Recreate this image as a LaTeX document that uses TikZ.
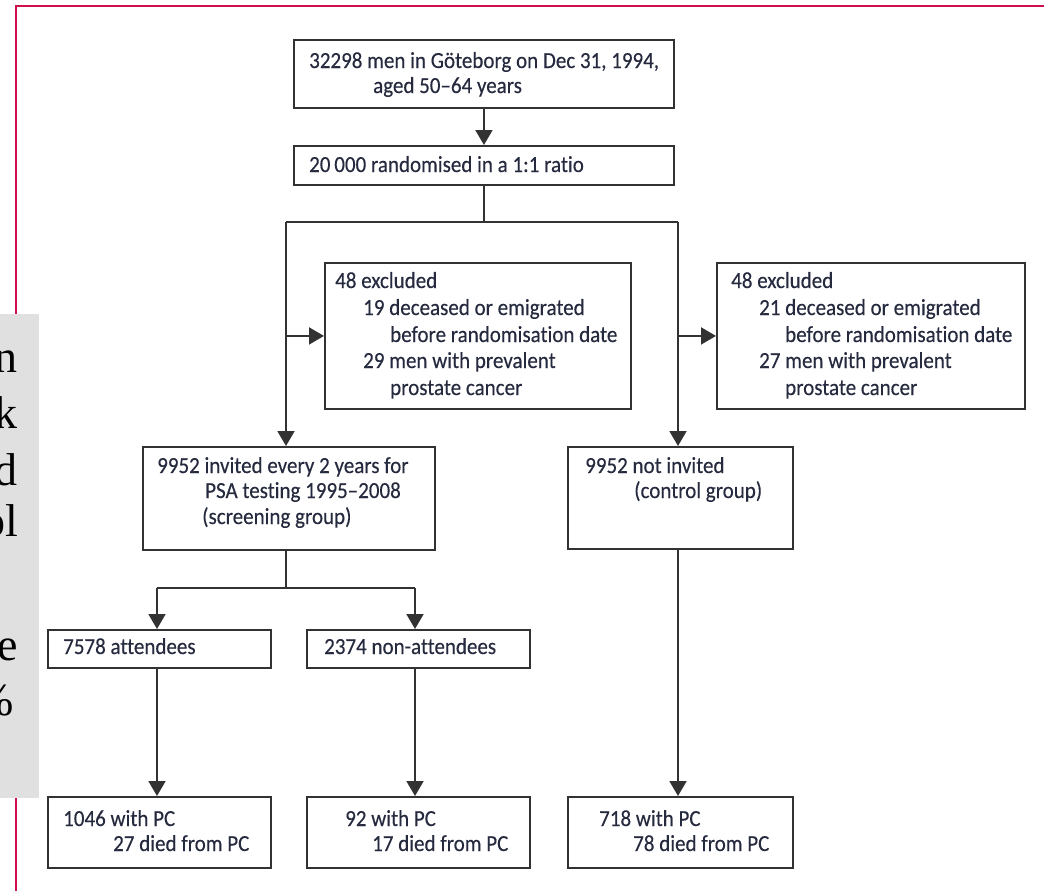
\documentclass[tikz,border=0pt]{standalone}
\usepackage{fontspec}
\setmainfont{Carlito}[FakeStretch=0.913, Ligatures={NoCommon}, FakeBold=0.3]
\newfontfamily\panelserif{Liberation Serif}
\usetikzlibrary{arrows.meta}
\definecolor{frameRed}{RGB}{208,16,76}
\definecolor{panelGrey}{RGB}{224,224,224}
\definecolor{lineGrey}{RGB}{50,50,50}
\definecolor{txtCol}{RGB}{38,42,62}
\newcommand\tf{\fontsize{23pt}{25pt}\selectfont}
\tikzset{
  box/.style={draw=lineGrey, line width=1.9pt, rectangle, inner sep=0pt, anchor=north west},
  conn/.style={draw=lineGrey, line width=1.9pt},
  arr/.style={conn, -{Triangle[width=17pt,length=15pt]}},
  txt/.style={anchor=base west, inner sep=0pt, text=txtCol, font=\tf},
  ptxt/.style={anchor=base east, inner sep=0pt, text=black, font=\panelserif\fontsize{46pt}{50pt}\selectfont},
}
\begin{document}
\begin{tikzpicture}[x=1pt,y=-1pt]
\useasboundingbox (0,0) rectangle (1044,891);
% frame
\draw[frameRed, line width=2.8pt] (16,891) -- (16,6) -- (1044,6);
% grey side panel
\fill[panelGrey] (0,314) rectangle (39,798);
\begin{scope}
\clip (0,314) rectangle (39,798);
\node[ptxt] (p1) at (18,372) {n};
\node[ptxt] (p2) at (18,428) {k};
\node[ptxt] (p3) at (18,485) {d};
\node[ptxt] (p4) at (18,536) {ol};
\node[ptxt] (p5) at (18,660) {e};
\node[ptxt] (p6) at (14,715) {\%};
\end{scope}
% boxes
\node[box, minimum width=380pt, minimum height=68pt] (b1) at (293,39) {};
\node[box, minimum width=380pt, minimum height=39pt] (b2) at (293,145) {};
\node[box, minimum width=306pt, minimum height=146pt] (ex1) at (324,262) {};
\node[box, minimum width=308pt, minimum height=146pt] (ex2) at (716,262) {};
\node[box, minimum width=292pt, minimum height=103pt] (scr) at (142,446) {};
\node[box, minimum width=225pt, minimum height=102pt] (ctl) at (567,446) {};
\node[box, minimum width=223pt, minimum height=38pt] (att) at (47,629) {};
\node[box, minimum width=223pt, minimum height=38pt] (non) at (306,629) {};
\node[box, minimum width=223pt, minimum height=71pt] (pc1) at (47,796) {};
\node[box, minimum width=223pt, minimum height=71pt] (pc2) at (306,796) {};
\node[box, minimum width=225pt, minimum height=71pt] (pc3) at (567,796) {};
% texts
\node[txt] (t1a) at (309,68) {32298 men in Göteborg on Dec 31, 1994,};
\node[txt] (t1b) at (373,93) {aged 50–64 years};
\node[txt] (t2) at (309,172) {20\,000 randomised in a 1:1 ratio};
\node[txt] (e1a) at (335,288) {48 excluded};
\node[txt] (e1b) at (363,315) {19 deceased or emigrated};
\node[txt] (e1c) at (390,342) {before randomisation date};
\node[txt] (e1d) at (363,368) {29 men with prevalent};
\node[txt] (e1e) at (390,395) {prostate cancer};
\node[txt] (e2a) at (731,288) {48 excluded};
\node[txt] (e2b) at (759,315) {21 deceased or emigrated};
\node[txt] (e2c) at (785,342) {before randomisation date};
\node[txt] (e2d) at (759,368) {27 men with prevalent};
\node[txt] (e2e) at (785,395) {prostate cancer};
\node[txt] (s1) at (157,473) {9952 invited every 2 years for};
\node[txt] (s2) at (205,498) {PSA testing 1995–2008};
\node[txt] (s3) at (202,524) {(screening group)};
\node[txt] (c1) at (585,473) {9952 not invited};
\node[txt] (c2) at (634,498) {(control group)};
\node[txt] (a1) at (63,654) {7578 attendees};
\node[txt] (n1) at (324,654) {2374 non-attendees};
\node[txt] (q1a) at (63,826) {1046 with PC};
\node[txt] (q1b) at (113,851) {27 died from PC};
\node[txt] (q2a) at (345,826) {92 with PC};
\node[txt] (q2b) at (372,851) {17 died from PC};
\node[txt] (q3a) at (599,826) {718 with PC};
\node[txt] (q3b) at (633,851) {78 died from PC};
% connectors
\coordinate (sp) at (483,222);
\coordinate (spl) at (286,222);
\coordinate (spr) at (678,222);
\coordinate (sq) at (286,588);
\coordinate (sql) at (157,588);
\coordinate (sqr) at (415,588);
\draw[arr] (b1.south) -- (b2.north);
\draw[conn] (b2.south) -- (b2.south |- sp);
\draw[conn] (spl) -- (spr);
\draw[arr] (spl) -- (spl |- scr.north);
\draw[arr] (spr) -- (spr |- ctl.north);
\draw[arr] (spl |- ex1.west) -- (ex1.west);
\draw[arr] (spr |- ex2.west) -- (ex2.west);
\draw[conn] (spl |- scr.south) -- (sq);
\draw[conn] (sql) -- (sqr);
\draw[arr] (sql) -- (sql |- att.north);
\draw[arr] (sqr) -- (sqr |- non.north);
\draw[arr] (sql |- att.south) -- (sql |- pc1.north);
\draw[arr] (sqr |- non.south) -- (sqr |- pc2.north);
\draw[arr] (spr |- ctl.south) -- (spr |- pc3.north);
\end{tikzpicture}
\end{document}
